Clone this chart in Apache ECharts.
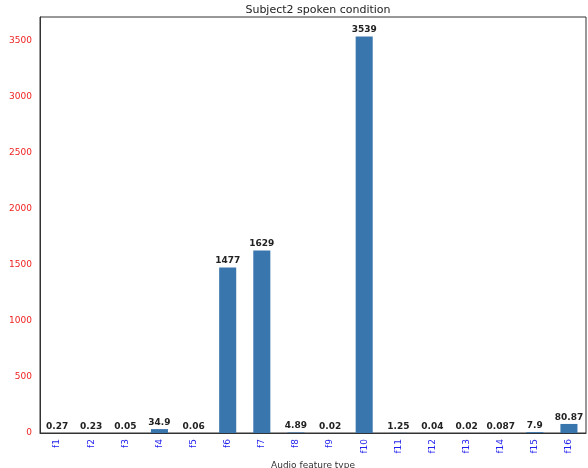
<!DOCTYPE html>
<html><head><meta charset="utf-8">
<script src="https://cdn.jsdelivr.net/npm/echarts@6/dist/echarts.min.js"></script>
<style>body{margin:0;background:#fff}#main{width:588px;height:468px}</style>
</head><body><div id="main"></div>
<script>
var categories = ['f1','f2','f3','f4','f5','f6','f7','f8','f9','f10','f11','f12','f13','f14','f15','f16'];
var values = [0.27,0.23,0.05,34.9,0.06,1477,1629,4.89,0.02,3539,1.25,0.04,0.02,0.087,7.9,80.87];
var yTicks = [0,500,1000,1500,2000,2500,3000,3500];

var myChart = echarts.init(document.getElementById('main'));
myChart.setOption({
    animation: false,
    title: {
        text: 'Subject2 spoken condition',
        left: 313, top: 0, textAlign: 'center',
        textStyle: { fontSize: 11, fontWeight: 'normal', color: '#222', fontFamily: 'DejaVu Sans' }
    },
    grid: { left: 40, right: 2, top: 17, bottom: 35, containLabel: false, outerBoundsMode: 'none',
        show: true, borderColor: '#333', borderWidth: 1 },
    xAxis: {
        type: 'category', data: categories,
        name: 'Audio feature type', nameLocation: 'middle', nameGap: 24,
        nameTextStyle: { fontSize: 9, color: '#333', fontFamily: 'DejaVu Sans' },
        axisLine: { lineStyle: { color: '#333' } },
        axisTick: { show: false },
        axisLabel: { rotate: 90, color: '#2222ee', fontSize: 9, margin: 6, fontFamily: 'DejaVu Sans' }
    },
    yAxis: {
        type: 'value', min: 0, max: 3714, interval: 500,
        name: 'RMSE', nameLocation: 'middle', nameGap: 32,
        nameTextStyle: { fontSize: 9, color: '#333', fontFamily: 'DejaVu Sans' },
        axisLine: { show: true, lineStyle: { color: '#333' } },
        axisTick: { show: false },
        splitLine: { show: false },
        axisLabel: {
            color: '#e22', fontSize: 9, fontFamily: 'DejaVu Sans',
            formatter: function (v) { return yTicks.indexOf(v) >= 0 ? v : ''; }
        }
    },
    series: [{
        type: 'bar', data: values, barWidth: '50%',
        itemStyle: { color: '#3a76ae' },
        label: {
            show: true, position: 'top', distance: 2,
            color: '#222', fontSize: 9, fontWeight: 'bold', fontFamily: 'DejaVu Sans'
        }
    }]
});
</script></body></html>
